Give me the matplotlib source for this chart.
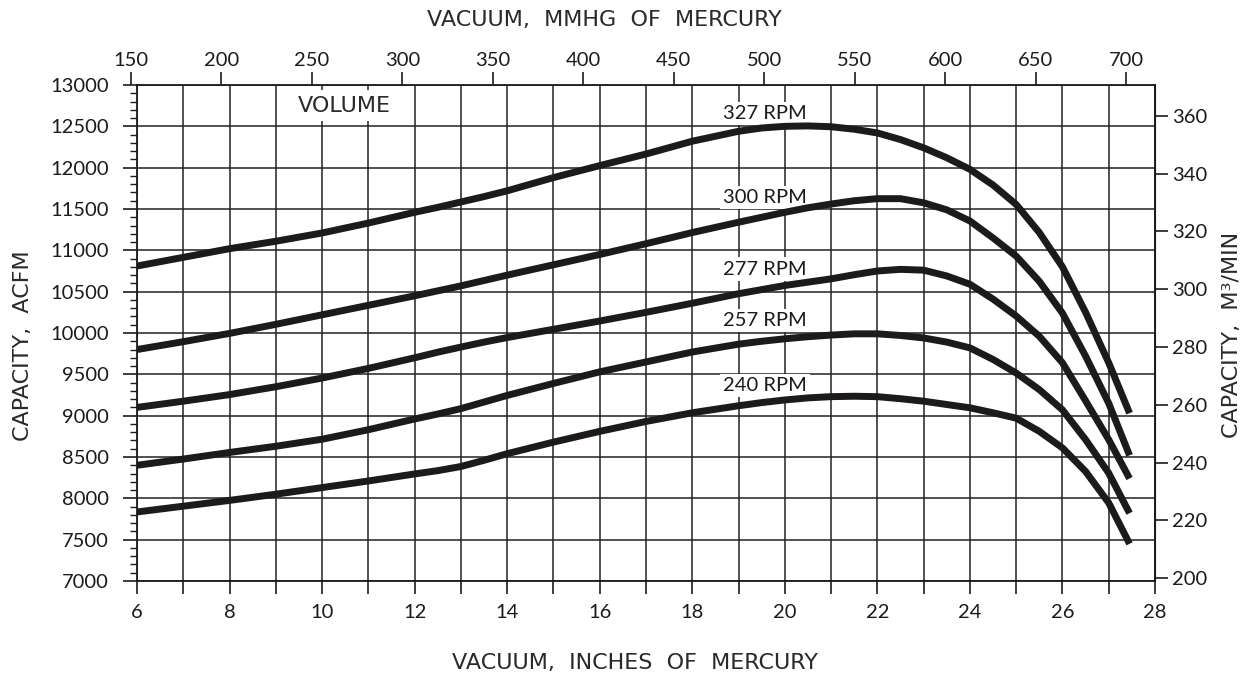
import matplotlib.pyplot as plt

# vacuum, inches of mercury
vakum = [6, 7, 8, 9, 10, 11, 12, 12.5, 13, 13.5, 14, 15, 16, 17, 18, 19, 19.5, 20, 20.5, 21, 21.5,
         22, 22.5, 23, 23.5, 24, 24.5, 25, 25.5, 26, 26.5, 27, 27.45]

# capacity, ACFM tiap rpm
rpm_327 = [10810, 10915, 11020, 11110, 11210, 11330, 11460, 11520, 11585, 11650, 11720, 11880, 12025, 12165,
           12320, 12440, 12480, 12500, 12505, 12495, 12465, 12420, 12340, 12240, 12120, 11980, 11790, 11555,
           11215, 10800, 10250, 9640, 9030]
rpm_300 = [9800, 9895, 9995, 10105, 10220, 10335, 10450, 10510, 10570, 10635, 10700, 10825, 10950, 11080,
           11215, 11340, 11400, 11460, 11515, 11560, 11600, 11625, 11625, 11575, 11490, 11355, 11150, 10930,
           10625, 10240, 9720, 9150, 8520]
rpm_277 = [9100, 9175, 9255, 9350, 9455, 9572, 9700, 9768, 9830, 9890, 9945, 10045, 10145, 10250,
           10360, 10475, 10525, 10575, 10615, 10655, 10705, 10750, 10770, 10760, 10690, 10590, 10410, 10205,
           9960, 9640, 9180, 8710, 8240]
rpm_257 = [8400, 8475, 8555, 8630, 8715, 8830, 8960, 9020, 9085, 9165, 9245, 9390, 9530, 9650,
           9770, 9865, 9900, 9930, 9955, 9975, 9990, 9990, 9970, 9940, 9890, 9820, 9680, 9515,
           9315, 9070, 8710, 8305, 7820]
rpm_240 = [7835, 7905, 7975, 8050, 8130, 8210, 8295, 8335, 8385, 8460, 8540, 8680, 8810, 8930,
           9035, 9120, 9158, 9190, 9215, 9230, 9235, 9230, 9205, 9175, 9135, 9095, 9035, 8970,
           8810, 8610, 8325, 7945, 7450]

kurva = [rpm_327, rpm_300, rpm_277, rpm_257, rpm_240]
label_rpm = ["327 RPM", "300 RPM", "277 RPM", "257 RPM", "240 RPM"]
label_y = [12658, 11644, 10774, 10152, 9367]
label_x = 19.57

mmhg_ticks = list(range(150, 701, 50))
m3_ticks = list(range(200, 361, 20))

hitam = '#1c1a1b'
font_angka = 'Lato'
font_judul = 'DejaVu Sans'


# skala atas dan kanan
def in2mm(x):
    return (x - 5.870) / 0.039102 + 150


def mm2in(m):
    return 5.870 + (m - 150) * 0.039102


def acfm2m3(a):
    return 200 + (a - 7032.6) / 34.97


def m32acfm(m):
    return 7032.6 + (m - 200) * 34.97


W, H = 1251, 679
kiri, kanan_px, atas_px, bawah_px = 137, 1155, 85, 581

fig = plt.figure(figsize=(W / 100, H / 100), dpi=100)
ax = fig.add_axes([kiri / W, 1 - bawah_px / H, (kanan_px - kiri) / W, (bawah_px - atas_px) / H])

for data in kurva:
    ax.plot(vakum, data, color=hitam, lw=5, solid_capstyle='butt', solid_joinstyle='round', zorder=4)

for i in range(len(label_rpm)):
    ax.text(label_x, label_y[i], label_rpm[i], ha='center', va='center', fontsize=14.5, family=font_angka,
            color=hitam, zorder=3, bbox=dict(boxstyle='square,pad=0.15', fc='white', ec='none'))

ax.text(10.48, 12749, "VOLUME", ha='center', va='center', fontsize=16, family=font_judul, color='#2a2a2a',
        zorder=3, bbox=dict(boxstyle='square,pad=0.25', fc='white', ec='none'))

ax.set_xlim(6, 28)
ax.set_ylim(7000, 13000)
ax.set_xticks(range(6, 29, 2))
ax.set_xticks(range(7, 28, 2), minor=True)
ax.set_yticks(range(7000, 13001, 500))
ax.set_yticks(range(7000, 13001, 100), minor=True)
ax.grid(True, which='both', axis='x', color='#222222', lw=1.1)
ax.grid(True, which='major', axis='y', color='#222222', lw=1.1)
ax.set_axisbelow(True)

ax.tick_params(axis='x', which='both', direction='out', length=9.4, width=1.2, pad=7, labelsize=14.5,
               colors=hitam)
ax.tick_params(axis='y', which='major', direction='out', length=10, width=1.2, pad=10, labelsize=14.5,
               colors=hitam)
ax.tick_params(axis='y', which='minor', direction='out', length=5, width=1.0, colors=hitam)
for lab in ax.get_xticklabels() + ax.get_yticklabels():
    lab.set_family(font_angka)
for s in ax.spines.values():
    s.set_linewidth(1.3)
    s.set_color(hitam)

# sumbu atas (mmHg) dibuat lebih lebar ke kiri supaya tick 150 kelihatan
px_per_in = (kanan_px - kiri) / 22
kiri_atas = 115
ax_atas = fig.add_axes([kiri_atas / W, 1 - bawah_px / H, (kanan_px - kiri_atas) / W, (bawah_px - atas_px) / H])
ax_atas.patch.set_visible(False)
for s in ax_atas.spines.values():
    s.set_visible(False)
ax_atas.set_xlim(in2mm(6 - (kiri - kiri_atas) / px_per_in), in2mm(28))
ax_atas.set_xticks(mmhg_ticks)
ax_atas.set_yticks([])
ax_atas.xaxis.tick_top()
ax_atas.tick_params(axis='x', direction='out', length=9.4, width=1.2, pad=2, labelsize=14.5, colors=hitam)
for lab in ax_atas.get_xticklabels():
    lab.set_family(font_angka)

kanan = ax.secondary_yaxis('right', functions=(acfm2m3, m32acfm))
kanan.set_yticks(m3_ticks)
kanan.tick_params(direction='out', length=9.4, width=1.2, pad=3, labelsize=14.5, colors=hitam)
for lab in kanan.get_yticklabels():
    lab.set_family(font_angka)

# judul sumbu
fig.text(635 / W, 1 - 663 / H, "VACUUM,  INCHES  OF  MERCURY", ha='center', va='center', fontsize=16,
         family=font_judul, color='#2a2a2a')
fig.text(604 / W, 1 - 20 / H, "VACUUM,  MMHG  OF  MERCURY", ha='center', va='center', fontsize=16,
         family=font_judul, color='#2a2a2a')
fig.text(23 / W, 1 - 346 / H, "CAPACITY,  ACFM", ha='center', va='center', rotation=90, fontsize=16,
         family=font_judul, color='#2a2a2a')
fig.text(1232 / W, 1 - 335 / H, "CAPACITY,  M³/MIN", ha='center', va='center', rotation=90,
         fontsize=16, family=font_judul, color='#2a2a2a')

plt.savefig('out.png', dpi=100)
